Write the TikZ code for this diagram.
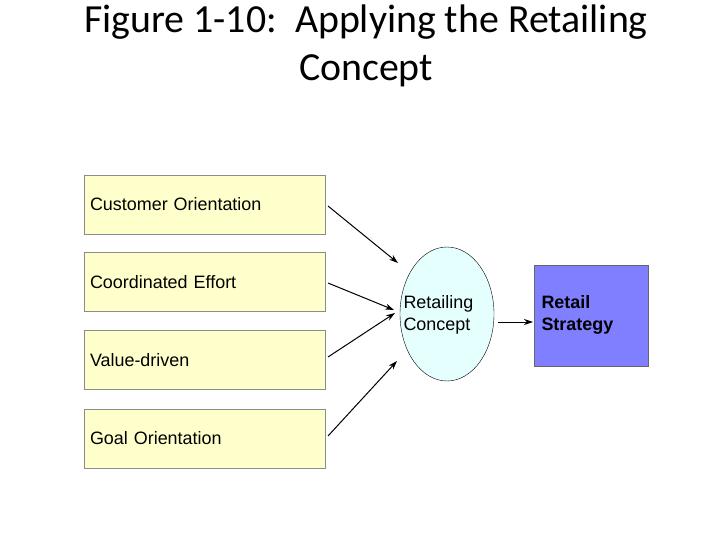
\documentclass[tikz,border=0pt]{standalone}
\usepackage{fontspec}
\setmainfont{Liberation Sans}
\newfontfamily\titlefont{Carlito}
\usetikzlibrary{shapes.geometric,arrows.meta}
\definecolor{boxy}{HTML}{FFFFCC}
\definecolor{ell}{HTML}{E5FFFF}
\definecolor{strat}{HTML}{7F7FFF}
\begin{document}
\begin{tikzpicture}[x=1bp,y=-1bp,
  inbox/.style={draw=black!45,fill=boxy,minimum width=241bp,minimum height=59bp,text width=229bp,align=left,inner sep=0pt,font=\fontsize{18}{21}\selectfont},
  arr/.style={-{Stealth[length=9bp,width=6bp]},line width=1bp}]
\useasboundingbox (0,0) rectangle (720,540);
\node[font=\titlefont\fontsize{40}{48}\selectfont,align=center] (title) at (366,46) {Figure 1-10:\ \ Applying the Retailing\\Concept};
\node[inbox] (co) at (204.5,204.5) {Customer Orientation};
\node[inbox] (ce) at (204.5,282) {Coordinated Effort};
\node[inbox] (vd) at (204.5,360) {Value-driven};
\node[inbox] (go) at (204.5,438.5) {Goal Orientation};
\node[ellipse,draw=black,fill=ell,minimum width=94bp,minimum height=134bp,inner sep=0pt] (rc) at (447,314) {};
\node[align=left,font=\fontsize{18}{22}\selectfont,anchor=west] (rct) at (400,315) {Retailing\\Concept};
\node[draw=black!60,fill=strat,minimum width=114bp,minimum height=101bp,inner sep=0pt] (rs) at (591,315.5) {};
\node[align=left,font=\bfseries\fontsize{18}{22}\selectfont,anchor=west] (rst) at (538,315) {Retail\\Strategy};
\coordinate (a1) at (328,206); \coordinate (b1) at (398,263);
\coordinate (a2) at (328,283); \coordinate (b2) at (394,310);
\coordinate (a3) at (328,357); \coordinate (b3) at (395,313);
\coordinate (a4) at (328,436); \coordinate (b4) at (397,361);
\coordinate (a5) at (498,322); \coordinate (b5) at (533,322);
\draw[arr] (a1) -- (b1);
\draw[arr] (a2) -- (b2);
\draw[arr] (a3) -- (b3);
\draw[arr] (a4) -- (b4);
\draw[arr] (a5) -- (b5);
\end{tikzpicture}
\end{document}
